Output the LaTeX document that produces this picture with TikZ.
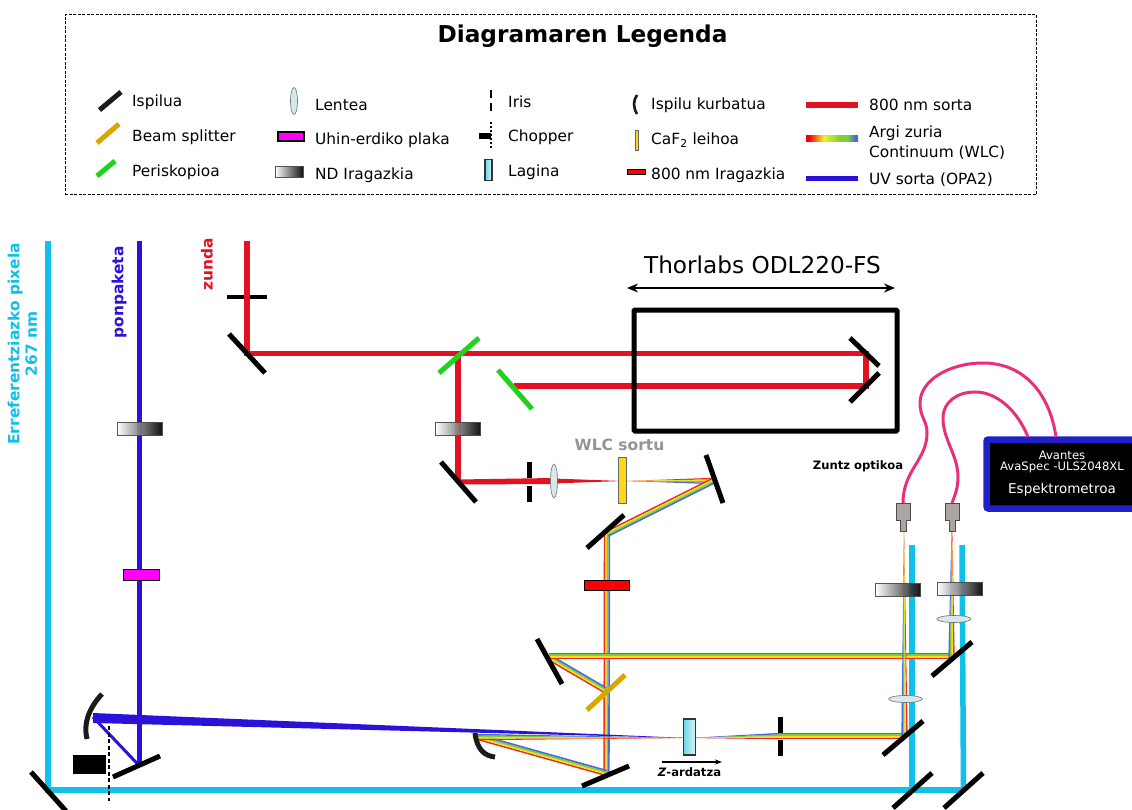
\documentclass[tikz,border=0pt]{standalone}
\usepackage{fontspec}
\setmainfont{DejaVu Sans}
\usepackage{xcolor}
\usepackage{tikz}
\usetikzlibrary{shapes.geometric, arrows.meta, calc}

\definecolor{refcyan}{HTML}{10C0E8}
\definecolor{pumpblue}{HTML}{2A12D8}
\definecolor{probered}{HTML}{E31222}
\definecolor{mirrordark}{HTML}{1E1A1A}
\definecolor{splitgold}{HTML}{D6A800}
\definecolor{perigreen}{HTML}{1ED21E}
\definecolor{lensfill}{HTML}{D5E8EA}
\definecolor{wlcred}{HTML}{F22A1E}
\definecolor{wlcyellow}{HTML}{F2E01E}
\definecolor{wlcgreen}{HTML}{7CD03A}
\definecolor{wlcblue}{HTML}{4A6CD4}
\definecolor{fibrepink}{HTML}{E8307A}
\definecolor{platemagenta}{HTML}{FF00FF}
\definecolor{filterred}{HTML}{FF0000}
\definecolor{cafyellow}{HTML}{FFD814}
\definecolor{tipgrey}{HTML}{ACA3A3}
\definecolor{samplecyan}{HTML}{6CD6E6}
\definecolor{samplepale}{HTML}{D8F4F8}
\definecolor{gradred}{HTML}{FF0000}
\definecolor{gradyellow}{HTML}{F0F030}
\definecolor{spectroblue}{HTML}{2020C8}

\pgfdeclarehorizontalshading{wlcgrad}{100bp}{color(0bp)=(gradred); color(28bp)=(gradred); color(42bp)=(gradyellow); color(58bp)=(wlcgreen); color(65bp)=(wlcgreen); color(72bp)=(wlcblue); color(100bp)=(wlcblue)}

% parallel bands of the white light beam
\newcommand{\wlcbeam}[2]{
	\foreach \off/\bandc in {-2.4/wlcred, -0.8/wlcyellow, 0.8/wlcgreen, 2.4/wlcblue} {
		\draw [line width=1.6pt, color=\bandc] ($(#1)!\off pt!90:(#2)$) -- ($(#2)!\off pt!-90:(#1)$);
	}
}
% same bands running out to a point, #3 is the side of the blue band
\newcommand{\wlccone}[3]{
	\foreach \lo/\hi/\bandc in {-3.2/-1.6/wlcred, -1.6/0/wlcyellow, 0/1.6/wlcgreen, 1.6/3.2/wlcblue} {
		\fill [color=\bandc] ($(#1)!\lo pt!#3:(#2)$) -- ($(#1)!\hi pt!#3:(#2)$) -- (#2) -- cycle;
	}
}
\newcommand{\fibretip}[1]{
	\draw [fill=tipgrey, draw=black!70, line width=0.7pt] ([xshift=-7pt]#1) -- ++(14,0) -- ++(0,17) -- ++(-4,0) -- ++(0,11) -- ++(-6,0) -- ++(0,-11) -- ++(-4,0) -- cycle;
}

\begin{document}
\begin{tikzpicture}[x=1pt, y=-1pt]
	% Styles
	\tikzstyle{mirror} = [draw=black, line width=5pt]
	\tikzstyle{splitter} = [draw=splitgold, line width=5pt]
	\tikzstyle{periscope} = [draw=perigreen, line width=5pt]
	\tikzstyle{curved} = [draw=mirrordark, line width=5pt]
	\tikzstyle{iris} = [draw=black, line width=5pt]
	\tikzstyle{refbeam} = [draw=refcyan, line width=5.5pt]
	\tikzstyle{pumpbeam} = [draw=pumpblue, line width=5pt]
	\tikzstyle{probebeam} = [draw=probered, line width=5.5pt]
	\tikzstyle{fibre} = [draw=fibrepink, line width=3pt]
	\tikzstyle{chopline} = [draw=black, line width=2.2pt, dash pattern=on 4pt off 2.5pt]
	\tikzstyle{ndfilter} = [draw=black!70, line width=1pt, rectangle, left color=white, right color=black, opacity=0.93, minimum width=45pt, minimum height=13pt, inner sep=0pt]
	\tikzstyle{waveplate} = [draw=black, line width=1.5pt, rectangle, fill=platemagenta, minimum width=36pt, minimum height=11pt, inner sep=0pt]
	\tikzstyle{redfilter} = [draw=black, line width=1pt, rectangle, fill=filterred, minimum width=45pt, minimum height=10pt, inner sep=0pt]
	\tikzstyle{window} = [draw=black!60, line width=0.8pt, rectangle, fill=cafyellow, minimum width=8pt, minimum height=46pt, inner sep=0pt]
	\tikzstyle{lens} = [draw=black!55, line width=0.6pt, ellipse, fill=lensfill, inner sep=0pt]
	\tikzstyle{samplebox} = [draw=black!80, line width=1.2pt, rectangle, left color=samplecyan, right color=samplepale, minimum width=12pt, minimum height=36pt, inner sep=0pt]
	\tikzstyle{legendtext} = [anchor=west, inner sep=0pt, yshift=-0.8pt, font=\fontsize{15.4}{20}\selectfont, align=left]
	\tikzstyle{beamname} = [rotate=90, inner sep=0pt, font=\fontsize{15.4}{17.5}\selectfont\bfseries, align=center]
	\tikzstyle{smallbold} = [inner sep=0pt, font=\fontsize{11.6}{14}\selectfont\bfseries]

	\useasboundingbox (0,0) rectangle (1132,810);

	% Legend
	\node (legendbox) [draw, line width=1pt, dash pattern=on 3pt off 1.5pt, rectangle, minimum width=971pt, minimum height=180pt, inner sep=0pt] at (550.5,105) {};
	\node (legendtitle) [font=\fontsize{23.2}{26}\selectfont\bfseries, inner sep=0pt] at (582.5,36) {Diagramaren Legenda};

	\draw [mirror, draw=mirrordark] (99.5,110) -- (121,92);
	\node (lgmirror) [legendtext] at (132,101) {Ispilua};
	\draw [splitter] (97,143) -- (119,124);
	\node (lgsplit) [legendtext] at (132,136) {Beam splitter};
	\draw [periscope] (97,176) -- (115,161);
	\node (lgperi) [legendtext] at (132,171) {Periskopioa};

	\node (lglens) [lens, minimum width=7pt, minimum height=27pt] at (294,101) {};
	\node (lglenstxt) [legendtext] at (315,104) {Lentea};
	\node (lgplate) [waveplate, minimum width=26pt, minimum height=9pt] at (291,136.5) {};
	\node (lgplatetxt) [legendtext] at (315,139) {Uhin-erdiko plaka};
	\node (lgnd) [ndfilter, minimum width=28pt, minimum height=11pt] at (289,172.5) {};
	\node (lgndtxt) [legendtext] at (315,174) {ND Iragazkia};

	\draw [iris, line width=2.5pt] (491,90) -- (491,98) (491,103) -- (491,111);
	\node (lgiris) [legendtext] at (508,101) {Iris};
	\draw [chopline, line width=1.4pt, dash pattern=on 2.5pt off 1.5pt] (491,122) -- (491,150);
	\node (lgblock) [fill=black, minimum width=12pt, minimum height=6pt, inner sep=0pt] at (484.5,136) {};
	\node (lgchop) [legendtext] at (508,136) {Chopper};
	\node (lgsample) [samplebox, minimum width=7pt, minimum height=21pt] at (488.5,170) {};
	\node (lgsampletxt) [legendtext] at (508,171) {Lagina};

	\draw [curved, line width=2.6pt] (637,95) .. controls (633,101) and (633,107) .. (637,114);
	\node (lgcurved) [legendtext] at (651,104) {Ispilu kurbatua};
	\node (lgwindow) [window, minimum width=3pt, minimum height=20pt] at (636.5,140) {};
	\node (lgwindowtxt) [legendtext] at (651,139) {CaF\textsubscript{2} leihoa};
	\node (lgred) [redfilter, minimum width=18pt, minimum height=5pt] at (636,172) {};
	\node (lgredtxt) [legendtext] at (651,174) {800 nm Iragazkia};

	\draw [probebeam, line width=6pt] (806,105.5) -- (858,105.5);
	\node (lgprobe) [legendtext] at (869,104) {800 nm sorta};
	\shade [shading=wlcgrad] (806,136) rectangle (858,142);
	\node (lgwlc) [legendtext] at (869,142) {Argi zuria\\Continuum (WLC)};
	\draw [pumpbeam, line width=5.5pt] (806,178.5) -- (858,178.5);
	\node (lgpump) [legendtext] at (869,179) {UV sorta (OPA2)};

	% Beam points
	\coordinate (refA) at (48,241);
	\coordinate (refB) at (48,790);
	\coordinate (refC) at (963.5,790);
	\coordinate (refD) at (962,545);
	\coordinate (refE) at (912,545);
	\coordinate (refF) at (912,790);
	\coordinate (pumpA) at (139.5,241);
	\coordinate (pumpB) at (139.5,766);
	\coordinate (pumpC) at (93,717);
	\coordinate (focus) at (688,738);
	\coordinate (probeA) at (247,241);
	\coordinate (probeB) at (247,353.5);
	\coordinate (probeC) at (866,353.5);
	\coordinate (probeD) at (866,386);
	\coordinate (probeE) at (514,386);
	\coordinate (probeF) at (458,353.5);
	\coordinate (probeG) at (458,482);
	\coordinate (windowR) at (626,481);
	\coordinate (wlcA) at (713,481);
	\coordinate (wlcB) at (607,534);
	\coordinate (wlcC) at (606.5,773);
	\coordinate (wlcD) at (478,737);
	\coordinate (wlcE) at (552,659);
	\coordinate (wlcF) at (605,690);
	\coordinate (wlcG) at (549,656);
	\coordinate (wlcH) at (954,656);
	\coordinate (wlcI) at (780,736);
	\coordinate (wlcJ) at (906,736);
	\coordinate (tipL) at (903,503);
	\coordinate (tipR) at (952,503);

	% Reference beam
	\draw [refbeam, line join=miter] (refA) -- (refB) -- (refC);
	\draw [refbeam] (refE) -- (refF);
	\draw [refbeam] (refD) -- (refC);

	% Probe beam
	\draw [mirror, line width=4pt] (227,297) -- (267,297);
	\draw [probebeam] (probeA) -- (probeB) -- (probeC) -- (probeD) -- (probeE);
	\draw [probebeam] (probeF) -- (probeG);
	\fill [probered] (458,479.5) -- (553,478) -- (553,484) -- (458,484.5) -- cycle;
	\fill [probered] (553,478.5) -- (622,481) -- (553,483.5) -- cycle;

	% White light beam
	\wlccone{wlcA}{windowR}{90}
	\wlcbeam{wlcA}{wlcB}
	\wlcbeam{wlcB}{wlcC}
	\wlcbeam{wlcE}{wlcF}
	\wlcbeam{wlcG}{wlcH}
	\wlcbeam{wlcD}{wlcC}
	\wlccone{wlcD}{focus}{90}
	\wlccone{wlcI}{focus}{-90}
	\wlcbeam{wlcI}{wlcJ}
	\wlccone{904.5,737}{904,525}{90}
	\wlccone{951.5,658}{952,510}{90}

	% Pump beam
	\draw [pumpbeam] (pumpA) -- (pumpB);
	\draw [pumpbeam, line width=3pt] (pumpB) -- (pumpC);
	\fill [pumpblue] (93,713) -- (focus) -- (93,723) -- cycle;

	% Mirrors
	\draw [mirror] (31,772) -- (66,811);
	\draw [mirror] (113,777) -- (160,756);
	\draw [curved] (102,694) .. controls (90,707) and (83,722) .. (87,739);
	\draw [mirror] (229,334) -- (265,373);
	\draw [periscope] (439,373) -- (479,338);
	\draw [periscope] (498,370) -- (532,409);
	\draw [mirror] (441,462) -- (476,502);
	\draw [mirror] (706,455) -- (723,503);
	\draw [mirror] (587,548) -- (624,515);
	\draw [mirror] (537,639) -- (562,684);
	\draw [splitter] (587,710) -- (625,675);
	\draw [mirror] (582,786) -- (629,766);
	\draw [curved] (475,733) .. controls (477,750) and (485,756) .. (495,757);
	\draw [mirror] (850,338) -- (879,366);
	\draw [mirror] (850,402) -- (879,373);
	\draw [mirror] (883,755) -- (923,721);
	\draw [mirror] (932,676) -- (972,642);
	\draw [mirror] (893,808) -- (932,773);
	\draw [mirror] (944,808) -- (983,773);

	% Optics on the beams
	\node (ndpump) [ndfilter] at (139.5,428.5) {};
	\node (ndprobe) [ndfilter] at (458,428.5) {};
	\node (ndleft) [ndfilter] at (898,589.5) {};
	\node (ndright) [ndfilter] at (960,588.5) {};
	\node (plate) [waveplate] at (141.5,575) {};
	\node (filterband) [redfilter] at (606.5,585) {};
	\node (caf) [window] at (622,480) {};
	\node (lensprobe) [lens, minimum width=7pt, minimum height=34pt] at (554,481) {};
	\node (lensright) [lens, minimum width=34pt, minimum height=7pt] at (954,619) {};
	\node (lensleft) [lens, minimum width=34pt, minimum height=7pt] at (905.5,699) {};
	\node (sample) [samplebox] at (689.5,737) {};
	\draw [iris] (529,462) -- (529,478) (529,486) -- (529,502);
	\draw [iris] (780,717) -- (780,733) (780,740) -- (780,756);
	\node (block) [fill=black, minimum width=33pt, minimum height=19pt, inner sep=0pt] at (89.5,764.5) {};
	\draw [chopline] (109,726) -- (109,801);

	% Delay stage
	\node (delaybox) [draw, line width=5pt, rectangle, rounded corners=1pt, minimum width=263pt, minimum height=121pt, inner sep=0pt] at (765.5,370.5) {};
	\coordinate (stageL) at (627,288);
	\coordinate (stageR) at (895,288);
	\draw [black, line width=2pt, {Stealth[length=11pt,width=9pt]}-{Stealth[length=11pt,width=9pt]}] (stageL) -- (stageR);
	\node (stagetxt) [inner sep=0pt, font=\fontsize{23.2}{26}\selectfont] at (762.5,265) {Thorlabs ODL220-FS};

	% Spectrometer and fibres
	\node (spectro) [draw=spectroblue, fill=black, line width=6.5pt, rounded corners=2pt, rectangle, minimum width=160pt, minimum height=69pt, inner sep=0pt] at (1066.5,474) {};
	\coordinate (portL) at (1028,437);
	\coordinate (portR) at (1056,437);
	\draw [fibre] (tipL) .. controls (903,470) and (927,460) .. (927,433) .. controls (927,420) and (920,418) .. (920,403) .. controls (920,380) and (950,363) .. (983,363) .. controls (1025,363) and (1050,395) .. (portR);
	\draw [fibre] (tipR) .. controls (955,495) and (958,488) .. (958,477) .. controls (958,455) and (943,440) .. (943,418) .. controls (943,402) and (957,392) .. (975,392) .. controls (998,392) and (1018,412) .. (portL);
	\fibretip{tipL}
	\fibretip{tipR}
	\node (spectroA) [text=white, inner sep=0pt, font=\fontsize{11.6}{14}\selectfont] at (1062,455) {Avantes};
	\node (spectroB) [text=white, inner sep=0pt, font=\fontsize{11.6}{14}\selectfont] at (1062,467) {AvaSpec -ULS2048XL};
	\node (spectroC) [text=white, inner sep=0pt, font=\fontsize{13.5}{16}\selectfont] at (1062,490) {Espektrometroa};

	% Labels
	\node (reflabel) [beamname, text=refcyan] at (22.5,344) {Erreferentziazko pixela\\267 nm};
	\node (pumplabel) [beamname, text=pumpblue] at (119,292.5) {ponpaketa};
	\node (probelabel) [beamname, text=probered] at (207,264.5) {zunda};
	\node (wlclabel) [inner sep=0pt, text=black!42, font=\fontsize{15.5}{18}\selectfont\bfseries] at (619.5,445) {WLC sortu};
	\node (fibrelabel) [smallbold] at (858,466.5) {Zuntz optikoa};
	\coordinate (zaxisL) at (662,762);
	\coordinate (zaxisR) at (722,762);
	\draw [black, line width=1.2pt, -{Stealth[length=7pt,width=5pt]}] (zaxisL) -- (zaxisR);
	\node (zaxis) [smallbold] at (689.5,772.5) {\textit{Z}-ardatza};
\end{tikzpicture}
\end{document}
